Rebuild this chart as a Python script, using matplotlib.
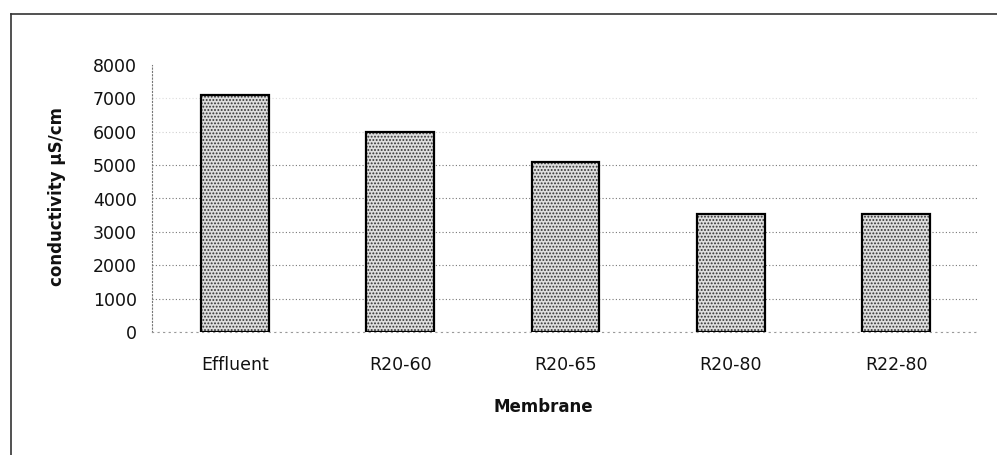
import numpy as np
import matplotlib
matplotlib.use('Agg')
import matplotlib.pyplot as plt
from matplotlib.lines import Line2D

membranes = ['Effluent', 'R20-60', 'R20-65', 'R20-80', 'R22-80']
conductivity = [7100, 6000, 5100, 3550, 3550]
yticks = [0, 1000, 2000, 3000, 4000, 5000, 6000, 7000, 8000]

W, H = 997, 455
fig = plt.figure(figsize=(W / 100, H / 100), dpi=100)
plt.rcParams['font.family'] = 'DejaVu Sans'
plt.rcParams['hatch.linewidth'] = 0.9

# axes box in pixels
left, right, top, bottom = 152, 979, 65, 332
ax = fig.add_axes([left / W, (H - bottom) / H, (right - left) / W, (bottom - top) / H])

x = np.arange(len(membranes))
# stippled fill, then the black outline on top
ax.bar(x, conductivity, width=0.41, color='#dedede', edgecolor='#333333',
       hatch='.....', linewidth=0, zorder=2)
ax.bar(x, conductivity, width=0.41, fill=False, edgecolor='black',
       linewidth=1.6, zorder=3)

ax.set_xlim(-0.5, len(membranes) - 0.5)
ax.set_ylim(0, 8000)
ax.set_yticks(yticks)
ax.set_xticks(x)
ax.set_xticklabels(membranes, fontsize=12.5, color='#111111')
ax.set_yticklabels([str(v) for v in yticks], fontsize=12.5, color='#111111')
ax.tick_params(axis='y', length=0, pad=11)
ax.tick_params(axis='x', length=0, pad=17)

ax.grid(axis='y', linestyle=(0, (1, 2)), color='#777777', linewidth=0.8, zorder=1)
# the upper grid lines are barely visible in the original, none at the top
glines = ax.get_ygridlines()
glines[-1].set_visible(False)
glines[-2].set_alpha(0.25)
glines[-3].set_alpha(0.35)

for s in ['top', 'right']:
    ax.spines[s].set_visible(False)
ax.spines['left'].set_linestyle((0, (1, 2)))
ax.spines['left'].set_color('#777777')
ax.spines['left'].set_linewidth(0.8)
ax.spines['bottom'].set_linestyle((0, (1, 4)))
ax.spines['bottom'].set_color('#999999')
ax.spines['bottom'].set_linewidth(0.8)

fig.text(57 / W, 1 - 197 / H, 'conductivity \u00b5S/cm', rotation=90, ha='center',
         va='center', fontsize=12, fontweight='bold', color='#111111')
fig.text(543 / W, 1 - 407 / H, 'Membrane', ha='center', va='center',
         fontsize=12, fontweight='bold', color='#111111')

# outer chart frame (only top and left are visible)
fig.add_artist(Line2D([11 / W, 1.0], [1 - 14 / H, 1 - 14 / H], color='#333333', lw=1.2))
fig.add_artist(Line2D([11 / W, 11 / W], [1 - 14 / H, 0.0], color='#333333', lw=1.2))

fig.savefig('out.png', dpi=100)
